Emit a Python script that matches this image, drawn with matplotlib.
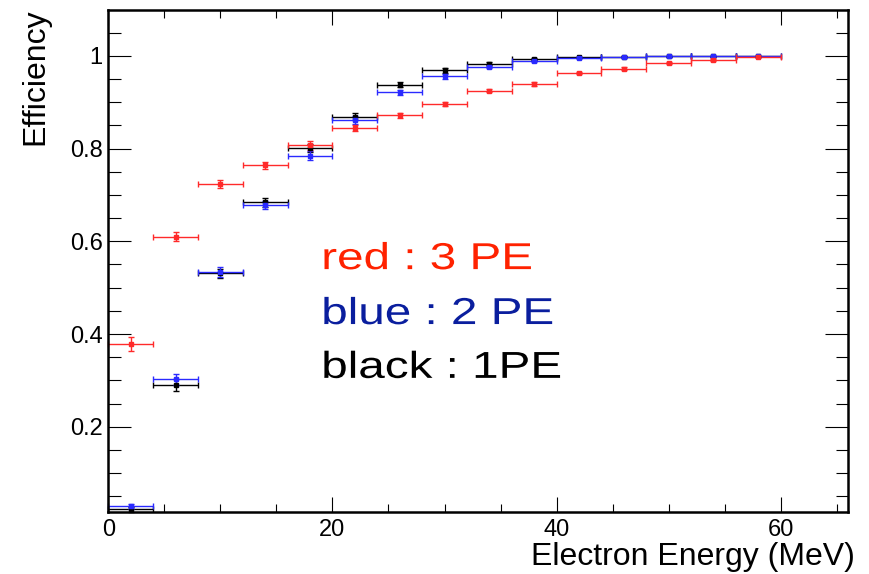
import numpy as np
import matplotlib.pyplot as plt
from matplotlib.ticker import MultipleLocator, FuncFormatter
from matplotlib.patheffects import AbstractPathEffect
from matplotlib.transforms import Affine2D

plt.rcParams['font.family'] = ['Liberation Sans', 'DejaVu Sans']

# bin centres in MeV, each bin is 4 MeV wide
energy = [2, 6, 10, 14, 18, 22, 26, 30, 34, 38, 42, 46, 50, 54, 58]
half_bin = 2

# 3 PE threshold (red)
eff_3pe = [0.378, 0.610, 0.724, 0.764, 0.807, 0.844, 0.872, 0.896, 0.925,
           0.940, 0.963, 0.972, 0.985, 0.991, 0.998]
err_3pe = [0.015, 0.010, 0.008, 0.007, 0.009, 0.006, 0.005, 0.004, 0.004,
           0.004, 0.003, 0.003, 0.002, 0.002, 0.001]

# 2 PE threshold (blue)
eff_2pe = [0.028, 0.302, 0.534, 0.678, 0.785, 0.862, 0.921, 0.956, 0.976,
           0.989, 0.996, 0.997, 0.999, 0.999, 0.999]
err_2pe = [0.005, 0.012, 0.010, 0.009, 0.009, 0.008, 0.006, 0.005, 0.003,
           0.002, 0.001, 0.001, 0.001, 0.001, 0.001]

# 1 PE threshold (black)
eff_1pe = [0.022, 0.290, 0.531, 0.684, 0.801, 0.869, 0.938, 0.969, 0.983,
           0.994, 0.997, 0.998, 0.999, 0.999, 0.999]
err_1pe = [0.005, 0.012, 0.010, 0.009, 0.009, 0.008, 0.006, 0.005, 0.003,
           0.002, 0.001, 0.001, 0.001, 0.001, 0.001]

legend_text = ['red : 3 PE', 'blue : 2 PE', 'black : 1PE']
legend_y = [0.540, 0.4215, 0.3054]
legend_col = ['#ff2200', '#0a1e9e', 'black']


class Widen(AbstractPathEffect):
    # the slide text is stretched sideways, so draw the glyphs wider
    def __init__(self, factor):
        super().__init__()
        self.factor = factor

    def draw_path(self, renderer, gc, tpath, affine, rgbFace=None):
        renderer.draw_path(gc, tpath, Affine2D().scale(self.factor, 1) + affine,
                           rgbFace)


fig = plt.figure(figsize=(8.69, 5.74), dpi=100)
ax = fig.add_axes([0.1246, 0.108, 0.8512, 0.8746])

series = [(eff_1pe, err_1pe, 'black'),
          (eff_2pe, err_2pe, '#2a2aff'),
          (eff_3pe, err_3pe, '#ff2a2a')]
for eff, err, col in series:
    ax.errorbar(energy, eff, xerr=half_bin, yerr=err, fmt='s', color=col,
                ms=2.2, elinewidth=1.0, capsize=2.2, capthick=1.0,
                clip_on=False)

ax.set_xlim(0, 66)
ax.set_ylim(0.016, 1.099)

ax.xaxis.set_major_locator(MultipleLocator(20))
ax.xaxis.set_minor_locator(MultipleLocator(5))
ax.yaxis.set_major_locator(MultipleLocator(0.2))
ax.yaxis.set_minor_locator(MultipleLocator(0.05))
ax.yaxis.set_major_formatter(FuncFormatter(lambda v, p: '%g' % round(v, 2)))

ax.tick_params(axis='both', which='both', direction='in', top=True,
               right=True, width=0.8, labelsize=17)
ax.tick_params(axis='x', which='major', length=10.5, pad=5)
ax.tick_params(axis='x', which='minor', length=5.5)
ax.tick_params(axis='y', which='major', length=16.5, pad=4)
ax.tick_params(axis='y', which='minor', length=9)
for sp in ax.spines.values():
    sp.set_linewidth(1.8)

ax.set_xlabel('Electron Energy (MeV)', fontsize=23, loc='right')
ax.xaxis.set_label_coords(1.01, -0.060)
ax.set_ylabel('Efficiency', fontsize=23, loc='top')
ax.yaxis.set_label_coords(-0.078, 1.004)

for txt, y, col in zip(legend_text, legend_y, legend_col):
    ax.text(19.0, y, txt, color=col, fontsize=27, va='baseline',
            path_effects=[Widen(1.27)])

fig.savefig('out.png', dpi=100)
